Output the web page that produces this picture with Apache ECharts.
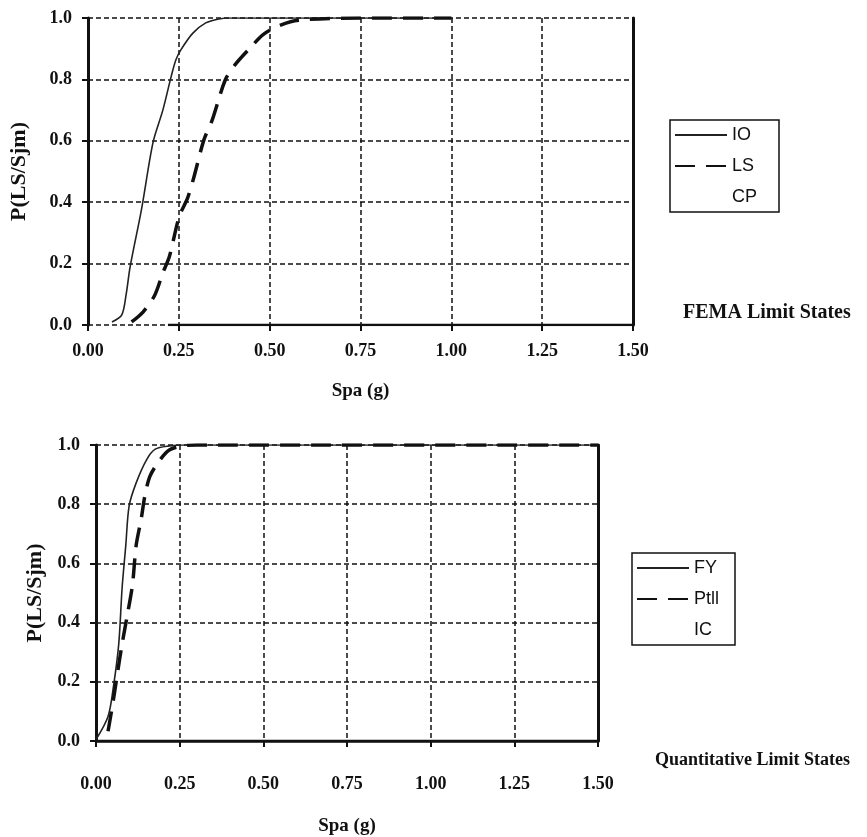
<!DOCTYPE html>
<html>
<head>
<meta charset="utf-8">
<script src="https://cdn.jsdelivr.net/npm/echarts@6/dist/echarts.min.js"></script>
<style>
  html, body { margin: 0; padding: 0; background: #fff; }
  #chart { width: 867px; height: 837px; }
</style>
</head>
<body>
<div id="chart"></div>
<script>
// x ticks shared by both panels
var spaTicks = [0, 0.25, 0.5, 0.75, 1.0, 1.25, 1.5];

// FEMA limit states (top panel)
var ioSpa = [0.066, 0.093, 0.105, 0.116, 0.147, 0.179, 0.206, 0.229, 0.242, 0.256, 0.288, 0.324, 0.36, 0.39, 1.0];
var ioP = [0.01, 0.033, 0.1, 0.19, 0.375, 0.595, 0.70, 0.81, 0.864, 0.897, 0.95, 0.984, 0.997, 1.0, 1.0];
var lsSpa = [0.12, 0.152, 0.184, 0.206, 0.224, 0.251, 0.274, 0.292, 0.319, 0.342, 0.378, 0.405, 0.446, 0.482, 0.532, 0.58, 0.75, 1.0];
var lsP = [0.01, 0.043, 0.098, 0.17, 0.223, 0.353, 0.413, 0.484, 0.603, 0.668, 0.799, 0.848, 0.902, 0.946, 0.978, 0.993, 1.0, 1.0];
var cpSpa = [0.22, 0.5, 1.0, 1.5];
var cpP = [0, 0, 0, 0];

// Quantitative limit states (bottom panel)
var fySpa = [0.0, 0.036, 0.052, 0.068, 0.078, 0.089, 0.099, 0.12, 0.151, 0.177, 0.219, 0.26, 1.5];
var fyP = [0.005, 0.083, 0.183, 0.328, 0.517, 0.661, 0.794, 0.872, 0.95, 0.986, 0.997, 1.0, 1.0];
var ptSpa = [0.036, 0.052, 0.0625, 0.078, 0.094, 0.109, 0.12, 0.135, 0.146, 0.161, 0.1875, 0.219, 0.26, 0.302, 1.5];
var ptP = [0.033, 0.139, 0.217, 0.328, 0.428, 0.528, 0.661, 0.75, 0.828, 0.894, 0.944, 0.983, 0.997, 1.0, 1.0];
var icSpa = [0.0, 0.5, 1.0, 1.5];
var icP = [0, 0, 0, 0];

function pairs(xs, ys) {
  return xs.map(function (x, i) { return [x, ys[i]]; });
}

var serif = 'Liberation Serif';
var sans = 'Liberation Sans';
var ink = '#111';
var clear = 'rgba(0,0,0,0)';

function xAxisFor(gridIndex, lineShow, labelMargin, nameGap) {
  return {
    type: 'value',
    gridIndex: gridIndex,
    min: spaTicks[0],
    max: spaTicks[spaTicks.length - 1],
    interval: 0.25,
    name: 'Spa (g)',
    nameLocation: 'middle',
    nameGap: nameGap,
    nameTextStyle: { fontFamily: serif, fontWeight: 'bold', fontSize: 19, color: ink },
    axisLine: { show: lineShow, lineStyle: { color: ink, width: 2.5 } },
    axisTick: { show: true, length: 6, lineStyle: { color: ink, width: 2 } },
    axisLabel: {
      margin: labelMargin,
      fontFamily: serif, fontWeight: 'bold', fontSize: 18, color: ink,
      formatter: function (v) { return v.toFixed(2); }
    },
    splitLine: { show: true, lineStyle: { color: ink, width: 1.5, type: [5, 3] } }
  };
}

function yAxisFor(gridIndex, nameGap) {
  return {
    type: 'value',
    gridIndex: gridIndex,
    min: 0,
    max: 1,
    interval: 0.2,
    name: 'P(LS/Sjm)',
    nameLocation: 'middle',
    nameGap: nameGap,
    nameTextStyle: { fontFamily: serif, fontWeight: 'bold', fontSize: 22, color: ink },
    axisLine: { show: true, lineStyle: { color: ink, width: 3 } },
    axisTick: { show: true, length: 6, lineStyle: { color: ink, width: 2 } },
    axisLabel: {
      margin: 16,
      fontFamily: serif, fontWeight: 'bold', fontSize: 18, color: ink,
      formatter: function (v) { return v.toFixed(1); }
    },
    splitLine: { show: true, lineStyle: { color: ink, width: 1.5, type: [5, 3] } }
  };
}

// right-hand frame of each plot
function rightFrame(gridIndex) {
  return {
    type: 'value', gridIndex: gridIndex, position: 'right', min: 0, max: 1,
    axisLine: { show: true, lineStyle: { color: ink, width: 3 } },
    axisTick: { show: false }, axisLabel: { show: false }, splitLine: { show: false }
  };
}

function lineSeries(name, data, xi, yi, style) {
  return {
    name: name,
    type: 'line',
    xAxisIndex: xi,
    yAxisIndex: yi,
    symbol: 'none',
    smooth: 0.3,
    data: data,
    lineStyle: style,
    itemStyle: { color: style.color },
    z: 5
  };
}

function legendFor(names, left, top, padding) {
  return {
    orient: 'vertical',
    left: left,
    top: top,
    padding: padding,
    itemWidth: 52,
    itemHeight: 14,
    itemGap: 13,
    itemTextGap: 3,
    borderColor: ink,
    borderWidth: 1.5,
    itemStyle: { color: clear, borderColor: clear, borderWidth: 0 },
    textStyle: { fontFamily: sans, fontSize: 18, color: ink },
    data: [
      names[0],
      names[1],
      { name: names[2], lineStyle: { color: clear }, itemStyle: { color: clear, borderColor: clear } }
    ]
  };
}

var thin = { color: '#222', width: 1.6, type: 'solid' };
var dashed = { color: ink, width: 3.5, type: [20, 11] };
var base = { color: ink, width: 2.5, type: 'solid' };

var option = {
  backgroundColor: '#fff',
  animation: false,
  title: [
    { text: 'FEMA Limit States', left: 678, top: 298,
      textStyle: { fontFamily: serif, fontWeight: 'bold', fontSize: 20, color: ink } },
    { text: 'Quantitative Limit States', left: 650, top: 746,
      textStyle: { fontFamily: serif, fontWeight: 'bold', fontSize: 18, color: ink } }
  ],
  grid: [
    { left: 87, top: 18, width: 546, height: 307 },
    { left: 96, top: 445, width: 502, height: 300 }
  ],
  xAxis: [
    xAxisFor(0, false, 17, 57),
    xAxisFor(1, true, 34, 76)
  ],
  yAxis: [
    yAxisFor(0, 58),
    yAxisFor(1, 49),
    rightFrame(0),
    rightFrame(1)
  ],
  legend: [
    legendFor(['IO', 'LS', 'CP'], 670, 120, [6, 22, 6, 4]),
    legendFor(['FY', 'Ptll', 'IC'], 632, 553, [6, 16, 6, 4])
  ],
  series: [
    lineSeries('IO', pairs(ioSpa, ioP), 0, 0, thin),
    lineSeries('LS', pairs(lsSpa, lsP), 0, 0, dashed),
    lineSeries('CP', pairs(cpSpa, cpP), 0, 0, base),
    lineSeries('FY', pairs(fySpa, fyP), 1, 1, thin),
    lineSeries('Ptll', pairs(ptSpa, ptP), 1, 1, dashed),
    lineSeries('IC', pairs(icSpa, icP), 1, 1, base)
  ]
};

var myChart = echarts.init(document.getElementById('chart'));
myChart.setOption(option);
</script>
</body>
</html>
